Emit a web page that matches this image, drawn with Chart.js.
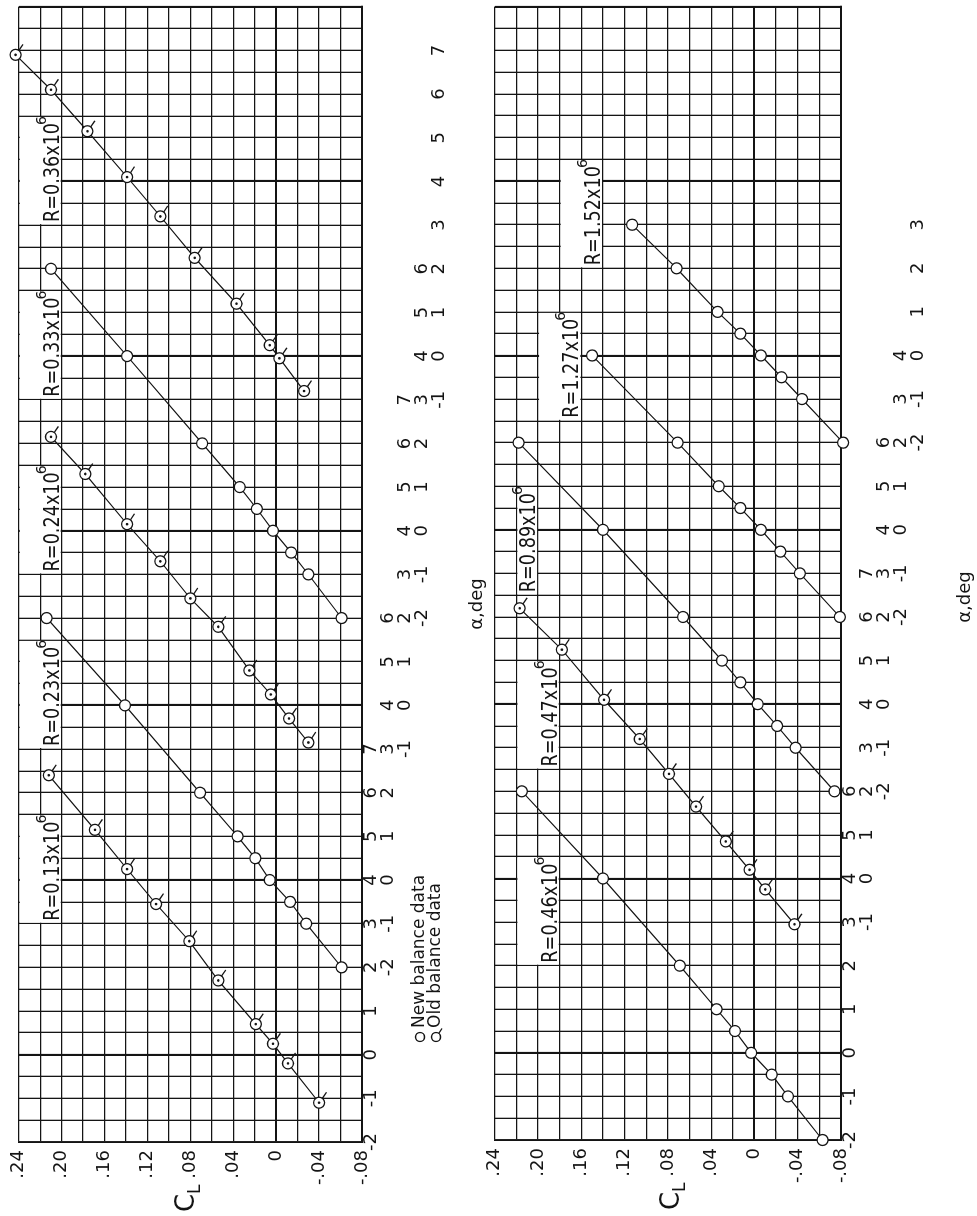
<!DOCTYPE html>
<html>
<head>
<meta charset="utf-8">
<script src="https://cdn.jsdelivr.net/npm/chart.js@4.4.0/dist/chart.umd.min.js"></script>
<style>
  html, body { margin: 0; padding: 0; background: #fff; }
  body { width: 977px; height: 1216px; overflow: hidden; position: relative; }
  /* the figure is drawn upright, then turned a quarter turn like the printed page */
  #sheet { position: absolute; left: 0; top: 0; width: 1216px; height: 977px;
           transform-origin: 0 0; transform: translateY(1216px) rotate(-90deg); }
  #sheet canvas { position: absolute; left: 0; }
  #topChart { top: 0; }
  #bottomChart { top: 476px; }
</style>
</head>
<body>
<div id="sheet">
  <canvas id="topChart" width="1216" height="488"></canvas>
  <canvas id="bottomChart" width="1216" height="501"></canvas>
</div>
<script>
// each run has its own alpha scale, staggered 4 deg along the shared axis
const topOffsets = [0, 4, 8, 12, 16];
const bottomOffsets = [0, 4, 8, 12, 16];

// alpha tick labels printed for each staggered scale
const topAlphaLabels = [
    [-2, -1, 0, 1, 2, 3, 4, 5, 6, 7],
    [-2, -1, 0, 1, 2, 3, 4, 5, 6],
    [-1, 0, 1, 2, 3, 4, 5, 6, 7],
    [-2, -1, 0, 1, 2, 3, 4, 5, 6],
    [-1, 0, 1, 2, 3, 4, 5, 6, 7]
];
const bottomAlphaLabels = [
    [-2, -1, 0, 1, 2, 3, 4, 5, 6],
    [-1, 0, 1, 2, 3, 4, 5, 6, 7],
    [-2, -1, 0, 1, 2, 3, 4, 5, 6],
    [-2, -1, 0, 1, 2, 3, 4],
    [-2, -1, 0, 1, 2, 3]
];

const clTicks = [-0.08, -0.04, 0, 0.04, 0.08, 0.12, 0.16, 0.20, 0.24];
const clTickLabels = ['-.08', '-.04', '0', '.04', '.08', '.12', '.16', '.20', '.24'];

// R = 0.13 x 10^6 (old balance)
const alphaR013 = [-1.1, -0.2, 0.25, 0.7, 1.7, 2.6, 3.45, 4.25, 5.15, 6.4];
const clR013 = [-0.040, -0.011, 0.003, 0.019, 0.054, 0.081, 0.112, 0.139, 0.169, 0.212];
// R = 0.23 x 10^6 (new balance)
const alphaR023 = [-2, -1, -0.5, 0, 0.5, 1, 2, 4, 6];
const clR023 = [-0.061, -0.028, -0.013, 0.006, 0.0195, 0.036, 0.071, 0.141, 0.214];
// R = 0.24 x 10^6 (old balance)
const alphaR024 = [-0.85, -0.3, 0.25, 0.8, 1.8, 2.45, 3.3, 4.15, 5.3, 6.15];
const clR024 = [-0.030, -0.012, 0.005, 0.025, 0.054, 0.080, 0.108, 0.139, 0.178, 0.210];
// R = 0.33 x 10^6 (new balance)
const alphaR033 = [-2, -1, -0.5, 0, 0.5, 1, 2, 4, 6];
const clR033 = [-0.061, -0.030, -0.014, 0.003, 0.018, 0.034, 0.069, 0.139, 0.210];
// R = 0.36 x 10^6 (old balance)
const alphaR036 = [-0.8, -0.05, 0.25, 1.2, 2.25, 3.2, 4.1, 5.15, 6.1, 6.9];
const clR036 = [-0.026, -0.003, 0.006, 0.037, 0.076, 0.108, 0.139, 0.176, 0.210, 0.243];

// R = 0.46 x 10^6 (new balance)
const alphaR046 = [-2, -1, -0.5, 0, 0.5, 1, 2, 4, 6];
const clR046 = [-0.063, -0.031, -0.016, 0.003, 0.018, 0.035, 0.069, 0.140, 0.215];
// R = 0.47 x 10^6 (old balance)
const alphaR047 = [-1.05, -0.25, 0.2, 0.85, 1.65, 2.4, 3.2, 4.1, 5.25, 6.2];
const clR047 = [-0.037, -0.010, 0.0045, 0.0265, 0.054, 0.079, 0.106, 0.139, 0.178, 0.217];
// R = 0.89 x 10^6 (new balance)
const alphaR089 = [-2, -1, -0.5, 0, 0.5, 1, 2, 4, 6];
const clR089 = [-0.074, -0.038, -0.021, -0.003, 0.013, 0.030, 0.066, 0.140, 0.218];
// R = 1.27 x 10^6 (new balance)
const alphaR127 = [-2, -1, -0.5, 0, 0.5, 1, 2, 4];
const clR127 = [-0.079, -0.042, -0.024, -0.006, 0.013, 0.033, 0.071, 0.150];
// R = 1.52 x 10^6 (new balance)
const alphaR152 = [-2, -1, -0.5, 0, 0.5, 1, 2, 3];
const clR152 = [-0.082, -0.044, -0.025, -0.006, 0.013, 0.034, 0.072, 0.113];

const topRuns = [
    { alpha: alphaR013, cl: clR013, scale: 0, old: true },
    { alpha: alphaR023, cl: clR023, scale: 1, old: false },
    { alpha: alphaR024, cl: clR024, scale: 2, old: true },
    { alpha: alphaR033, cl: clR033, scale: 3, old: false },
    { alpha: alphaR036, cl: clR036, scale: 4, old: true }
];
const bottomRuns = [
    { alpha: alphaR046, cl: clR046, scale: 0, old: false },
    { alpha: alphaR047, cl: clR047, scale: 1, old: true },
    { alpha: alphaR089, cl: clR089, scale: 2, old: false },
    { alpha: alphaR127, cl: clR127, scale: 3, old: false },
    { alpha: alphaR152, cl: clR152, scale: 4, old: false }
];

// label boxes, in axis units (alpha on the first scale, CL)
const topBoxes = [
    { text: 'R=0.13x10', alpha: [3, 5.5], cl: [0.20, 0.24] },
    { text: 'R=0.23x10', alpha: [7, 9.5], cl: [0.20, 0.24] },
    { text: 'R=0.24x10', alpha: [11, 13.5], cl: [0.20, 0.24] },
    { text: 'R=0.33x10', alpha: [15, 17.5], cl: [0.20, 0.24] },
    { text: 'R=0.36x10', alpha: [19, 21.5], cl: [0.20, 0.24] }
];
const bottomBoxes = [
    { text: 'R=0.46x10', alpha: [2, 4.5], cl: [0.18, 0.22] },
    { text: 'R=0.47x10', alpha: [6.5, 9], cl: [0.18, 0.22] },
    { text: 'R=0.89x10', alpha: [10.5, 13], cl: [0.20, 0.22] },
    { text: 'R=1.27x10', alpha: [14.5, 17], cl: [0.16, 0.20] },
    { text: 'R=1.52x10', alpha: [18, 20.5], cl: [0.14, 0.18] }
];

const ink = '#141414';
const family = '"DejaVu Sans", sans-serif';

// circle with a flag to the lower right (upper right once the page is turned)
function drawFlag(g, cx, cy, r) {
    g.beginPath();
    g.moveTo(cx + r * 0.8, cy + r * 0.6);
    g.lineTo(cx + r * 1.9, cy + r * 1.35);
    g.stroke();
}

function clLabel(value) {
    const i = clTicks.findIndex(t => Math.abs(t - value) < 1e-6);
    return i < 0 ? '' : clTickLabels[i];
}

function alphaLines(value, offsets, labels) {
    if (!Number.isInteger(value)) return '';
    return offsets.map((off, s) => labels[s].includes(value - off) ? String(value - off) : '');
}

const panelDecor = {
    id: 'panelDecor',
    beforeDatasetsDraw(chart, args, opts) {
        const g = chart.ctx;
        const xs = chart.scales.x;
        const ys = chart.scales.y;
        g.save();
        opts.boxes.forEach(b => {
            const x0 = xs.getPixelForValue(b.alpha[0]);
            const x1 = xs.getPixelForValue(b.alpha[1]);
            const yTop = ys.getPixelForValue(b.cl[1]);
            const yBot = ys.getPixelForValue(b.cl[0]);
            g.fillStyle = '#fff';
            g.fillRect(x0 + 1, yTop + 1, x1 - x0 - 2, yBot - yTop - 2);
            g.fillStyle = ink;
            g.textBaseline = 'alphabetic';
            g.textAlign = 'left';
            g.save();
            g.translate(x0 + 3, yBot - 3);
            g.scale(0.84, 1);
            g.font = '21px ' + family;
            g.fillText(b.text, 0, 0);
            const w = g.measureText(b.text).width * 0.84;
            g.restore();
            g.font = '14px ' + family;
            g.fillText('6', x0 + 1 + w, yBot - 16);
        });
        g.restore();
    },
    afterDatasetsDraw(chart, args, opts) {
        const g = chart.ctx;
        g.save();
        g.strokeStyle = ink;
        g.fillStyle = ink;
        g.lineWidth = 1.3;
        chart.data.datasets.forEach((ds, di) => {
            if (!opts.oldRuns[di]) return;
            chart.getDatasetMeta(di).data.forEach(pt => {
                g.beginPath();
                g.arc(pt.x, pt.y, 1.3, 0, Math.PI * 2);
                g.fill();
                drawFlag(g, pt.x, pt.y, 5.5);
            });
        });
        g.restore();
    },
    afterDraw(chart, args, opts) {
        const g = chart.ctx;
        g.save();
        g.fillStyle = ink;
        g.strokeStyle = ink;
        g.textBaseline = 'middle';
        g.textAlign = 'center';
        g.font = '18px ' + family;
        g.fillText('\u03b1,deg', opts.alphaTitle.x, opts.alphaTitle.y);

        g.textAlign = 'left';
        g.textBaseline = 'alphabetic';
        g.font = '26px ' + family;
        g.fillText('C', opts.clTitle.x, opts.clTitle.y);
        g.font = '17px ' + family;
        g.fillText('L', opts.clTitle.x + 18, opts.clTitle.y + 6);

        if (opts.legend) {
            const lg = opts.legend;
            g.lineWidth = 1.3;
            g.beginPath();
            g.arc(lg.x, lg.y, 4.5, 0, Math.PI * 2);
            g.stroke();
            g.beginPath();
            g.arc(lg.x, lg.y + 16, 4.5, 0, Math.PI * 2);
            g.stroke();
            drawFlag(g, lg.x, lg.y + 16, 4.5);
            g.textBaseline = 'middle';
            g.font = '17px ' + family;
            g.fillText('New balance data', lg.x + 9, lg.y);
            g.fillText('Old balance data', lg.x + 9, lg.y + 16);
        }
        g.restore();
    }
};

function buildDatasets(runs, offsets) {
    return runs.map(run => ({
        data: run.alpha.map((a, i) => ({ x: a + offsets[run.scale], y: run.cl[i] })),
        showLine: true,
        borderColor: ink,
        borderWidth: 1.2,
        pointRadius: 5.5,
        pointBorderWidth: 1.3,
        pointBorderColor: ink,
        pointBackgroundColor: '#fff',
        pointStyle: 'circle',
        clip: false
    }));
}

function makePanel(canvasId, runs, offsets, alphaLabels, area, decor) {
    const ctx = document.getElementById(canvasId).getContext('2d');
    decor.oldRuns = runs.map(r => r.old);
    return new Chart(ctx, {
        type: 'scatter',
        data: { datasets: buildDatasets(runs, offsets) },
        options: {
            responsive: false,
            animation: false,
            devicePixelRatio: 1,
            layout: { padding: { left: 0, right: area.right, top: area.top, bottom: 0 } },
            plugins: {
                legend: { display: false },
                tooltip: { enabled: false },
                panelDecor: decor
            },
            scales: {
                x: {
                    type: 'linear',
                    position: 'bottom',
                    min: -2,
                    max: 24,
                    afterFit: s => { s.height = area.bottom; },
                    grid: {
                        color: ink,
                        drawTicks: false,
                        lineWidth: c => (c.tick && c.tick.value % 4 === 0) ? 2.1 : 1.3
                    },
                    border: { color: ink, width: 1.9 },
                    ticks: {
                        stepSize: 0.5,
                        autoSkip: false,
                        maxRotation: 0,
                        minRotation: 0,
                        padding: 1,
                        color: ink,
                        font: { family: family, size: 18, lineHeight: '17px' },
                        callback: v => alphaLines(v, offsets, alphaLabels)
                    }
                },
                y: {
                    type: 'linear',
                    min: -0.08,
                    max: 0.24,
                    afterFit: s => { s.width = area.left; },
                    grid: {
                        color: ink,
                        drawTicks: false,
                        lineWidth: c => (c.tick && Math.abs(c.tick.value) < 1e-9) ? 2.1 : 1.3
                    },
                    border: { color: ink, width: 1.9 },
                    ticks: {
                        stepSize: 0.02,
                        autoSkip: false,
                        padding: 8,
                        color: ink,
                        font: { family: family, size: 18 },
                        callback: v => clLabel(v)
                    }
                }
            }
        },
        plugins: [panelDecor]
    });
}

makePanel('topChart', topRuns, topOffsets, topAlphaLabels,
    { left: 74, right: 4, top: 15, bottom: 126 },
    {
        boxes: topBoxes,
        alphaTitle: { x: 612, y: 477 },
        clTitle: { x: 4, y: 194 },
        legend: { x: 179, y: 420 }
    });

makePanel('bottomChart', bottomRuns, bottomOffsets, bottomAlphaLabels,
    { left: 76, right: 3, top: 16, bottom: 136 },
    {
        boxes: bottomBoxes,
        alphaTitle: { x: 619, y: 489 },
        clTitle: { x: 6, y: 203 }
    });
</script>
</body>
</html>
